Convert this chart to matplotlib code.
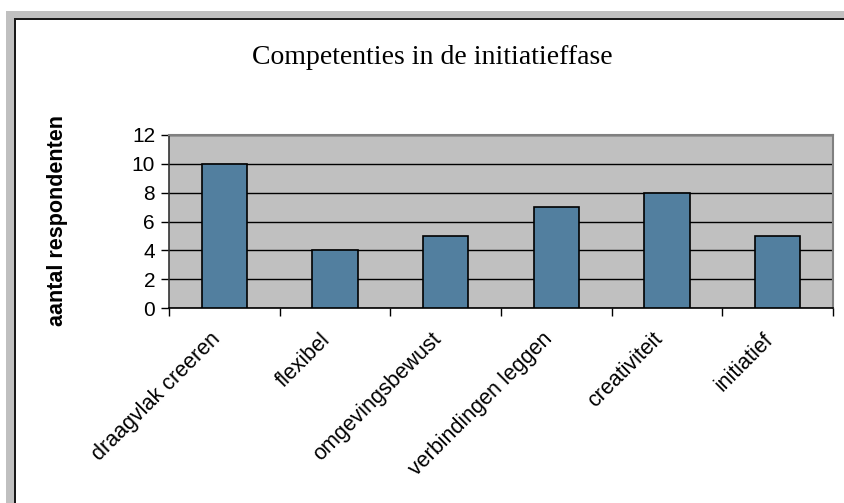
import matplotlib
matplotlib.use("Agg")
import matplotlib.pyplot as plt
from matplotlib.patches import Rectangle
import numpy as np

categories = ["draagvlak creeren", "flexibel", "omgevingsbewust",
              "verbindingen leggen", "creativiteit", "initiatief"]
values = [10, 4, 5, 7, 8, 5]
y_ticks = [0, 2, 4, 6, 8, 10, 12]

W, H = 845, 503
fig = plt.figure(figsize=(W / 100, H / 100), dpi=100)
fig.patch.set_facecolor("white")

# outer frame: grey band with a dark inner border line
def px(x, y, w, h, **kw):
    fig.patches.append(Rectangle((x / W, 1 - (y + h) / H), w / W, h / H,
                                 transform=fig.transFigure, **kw))

px(6, 11, W - 6, 8, facecolor="#c0c0c0", edgecolor="none")
px(6, 11, 8, H - 11, facecolor="#c0c0c0", edgecolor="none")
px(14, 18, W - 14, 1.6, facecolor="#1a1a1a", edgecolor="none")
px(14, 18, 1.6, H - 18, facecolor="#1a1a1a", edgecolor="none")

left, right, top, bottom = 169, 833, 135, 308
ax = fig.add_axes([left / W, 1 - bottom / H, (right - left) / W, (bottom - top) / H])
ax.set_facecolor("#c0c0c0")

x = np.arange(len(categories))
ax.bar(x, values, width=0.41, color="#527f9f", edgecolor="black", linewidth=1.2, zorder=3)

ax.set_xlim(-0.5, len(categories) - 0.5)
ax.set_ylim(0, 12)
ax.set_yticks(y_ticks)
ax.set_yticklabels([str(v) for v in y_ticks], fontsize=15, family="Liberation Sans")
ax.yaxis.grid(True, color="black", linewidth=1.0, zorder=1)
ax.set_axisbelow(True)

ax.set_xticks(np.arange(len(categories) + 1) - 0.5)
ax.set_xticklabels([])
ax.set_xticks(x, minor=True)
ax.set_xticklabels(categories, minor=True, rotation=45, ha="right",
                   rotation_mode="default", fontsize=15.5, family="Liberation Sans")
ax.tick_params(axis="x", which="minor", length=0, pad=15)
ax.tick_params(axis="x", which="major", length=6, width=1, direction="out", color="black")
ax.tick_params(axis="y", length=6, width=1, direction="out", color="black", pad=4)

for s in ["top", "right"]:
    ax.spines[s].set_color("#808080")
    ax.spines[s].set_linewidth(1.5)
ax.spines["left"].set_color("#333333")
ax.spines["bottom"].set_color("black")
ax.spines["left"].set_linewidth(1.2)
ax.spines["bottom"].set_linewidth(1.2)

ax.set_ylabel("aantal respondenten", fontsize=15.5, fontweight="bold",
              family="Liberation Sans")
ax.yaxis.set_label_coords((68 - left) / (right - left), 0.505)

fig.text(432 / W, 1 - 57 / H, "Competenties in de initiatieffase",
         ha="center", va="center", fontsize=20, family="Liberation Serif")

fig.savefig("out.png", dpi=100)
